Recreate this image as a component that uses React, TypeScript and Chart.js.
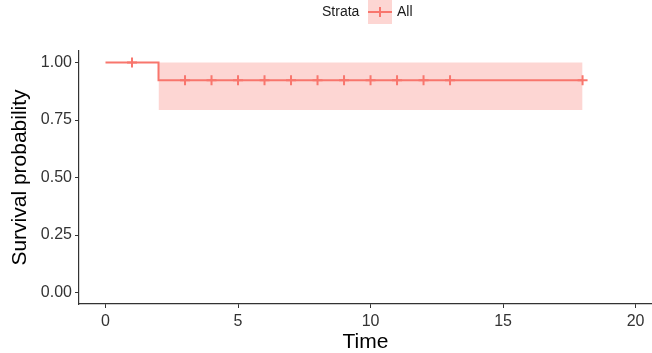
import React, { useEffect, useRef } from "react";
import { Chart, registerables } from "chart.js";

Chart.register(...registerables);

const RED = "#F8766D";
const BAND = "rgba(248,118,109,0.3)";

// Kaplan-Meier step curve (event times and survival)
const stepTimes = [0, 2, 18];
const survival = [1, 0.923, 0.923];
// censoring marks
const censorTimes = [1, 3, 4, 5, 6, 7, 8, 9, 10, 11, 12, 13, 18];
const censorSurv = [1, 0.923, 0.923, 0.923, 0.923, 0.923, 0.923, 0.923, 0.923, 0.923, 0.923, 0.923, 0.923];
// confidence band
const bandTimes = [2, 18];
const bandUpper = [1, 1];
const bandLower = [0.793, 0.793];
// ticks
const xTicks = [0, 5, 10, 15, 20];
const yTicks = [0, 0.25, 0.5, 0.75, 1];
const legendTitle = "Strata";
const legendLabel = "All";

const FONT = '"Liberation Sans", Arial, sans-serif';

const legendPlugin = {
  id: "kmLegend",
  afterDraw(chart: any) {
    const ctx = chart.ctx;
    ctx.save();
    ctx.font = `14px ${FONT}`;
    ctx.fillStyle = "#1a1a1a";
    ctx.textBaseline = "middle";
    ctx.textAlign = "left";
    const cy = 12;
    ctx.fillText(legendTitle, 322, cy);
    ctx.fillStyle = BAND;
    ctx.fillRect(368, 0, 24, 24);
    ctx.strokeStyle = RED;
    ctx.lineWidth = 2;
    ctx.beginPath();
    ctx.moveTo(368, cy);
    ctx.lineTo(392, cy);
    ctx.moveTo(380, cy - 5);
    ctx.lineTo(380, cy + 5);
    ctx.stroke();
    ctx.fillStyle = "#1a1a1a";
    ctx.fillText(legendLabel, 397, cy);
    ctx.restore();
  },
};

export default function App() {
  const ref = useRef<HTMLCanvasElement>(null);
  useEffect(() => {
    document.body.style.margin = "0";
    const chart = new Chart(ref.current!, {
      type: "line",
      data: {
        datasets: [
          {
            label: "censor",
            type: "scatter",
            data: censorTimes.map((t, i) => ({ x: t, y: censorSurv[i] })),
            pointStyle: "cross",
            pointRadius: 5,
            pointBorderWidth: 2,
            borderColor: RED,
            backgroundColor: RED,
            showLine: false,
            order: 0,
          } as any,
          {
            label: "All",
            data: stepTimes.map((t, i) => ({ x: t, y: survival[i] })),
            stepped: "before",
            borderColor: RED,
            borderWidth: 2,
            pointRadius: 0,
            fill: false,
            order: 1,
          },
          {
            label: "upper",
            data: bandTimes.map((t, i) => ({ x: t, y: bandUpper[i] })),
            stepped: "before",
            borderWidth: 0,
            borderColor: "rgba(0,0,0,0)",
            backgroundColor: BAND,
            pointRadius: 0,
            fill: "+1",
            order: 2,
          },
          {
            label: "lower",
            data: bandTimes.map((t, i) => ({ x: t, y: bandLower[i] })),
            stepped: "before",
            borderWidth: 0,
            borderColor: "rgba(0,0,0,0)",
            pointRadius: 0,
            fill: false,
            order: 3,
          },
        ],
      },
      options: {
        animation: false,
        responsive: false,
        layout: { autoPadding: false, padding: { top: 51, right: 0, left: 0, bottom: 0 } },
        plugins: { legend: { display: false }, tooltip: { enabled: false } },
        scales: {
          x: {
            type: "linear",
            min: -1,
            max: 20.62,
            afterBuildTicks: (s: any) => {
              s.ticks = xTicks.map((v) => ({ value: v }));
            },
            afterFit: (s: any) => {
              s.height = 49;
              s.paddingLeft = 0;
              s.paddingRight = 0;
            },
            grid: { drawOnChartArea: false, drawTicks: true, tickLength: 4, color: "#333", lineWidth: 1 },
            border: { display: true, color: "#333", width: 1.2 },
            ticks: { color: "#333", font: { family: FONT, size: 16 }, padding: 4, maxRotation: 0 },
            title: { display: true, text: "Time", color: "#000", font: { family: FONT, size: 21 }, padding: { top: 0, bottom: -2 } },
          },
          y: {
            type: "linear",
            min: -0.05,
            max: 1.05,
            afterBuildTicks: (s: any) => {
              s.ticks = yTicks.map((v) => ({ value: v }));
            },
            afterFit: (s: any) => {
              s.width = 79;
              s.paddingTop = 0;
              s.paddingBottom = 0;
            },
            grid: { drawOnChartArea: false, drawTicks: true, tickLength: 4, color: "#333", lineWidth: 1 },
            border: { display: true, color: "#333", width: 1.2 },
            ticks: {
              color: "#333",
              font: { family: FONT, size: 16 },
              padding: 3,
              callback: (v: any) => Number(v).toFixed(2),
            },
            title: { display: true, text: "Survival probability", color: "#000", font: { family: FONT, size: 21 }, padding: { top: 8, bottom: 0 } },
          },
        },
      } as any,
      plugins: [legendPlugin],
    });
    return () => chart.destroy();
  }, []);
  return (
    <div style={{ position: "absolute", left: 0, top: 0, width: 652, height: 353 }}>
      <canvas ref={ref} width={652} height={353} style={{ width: 652, height: 353 }} />
    </div>
  );
}
